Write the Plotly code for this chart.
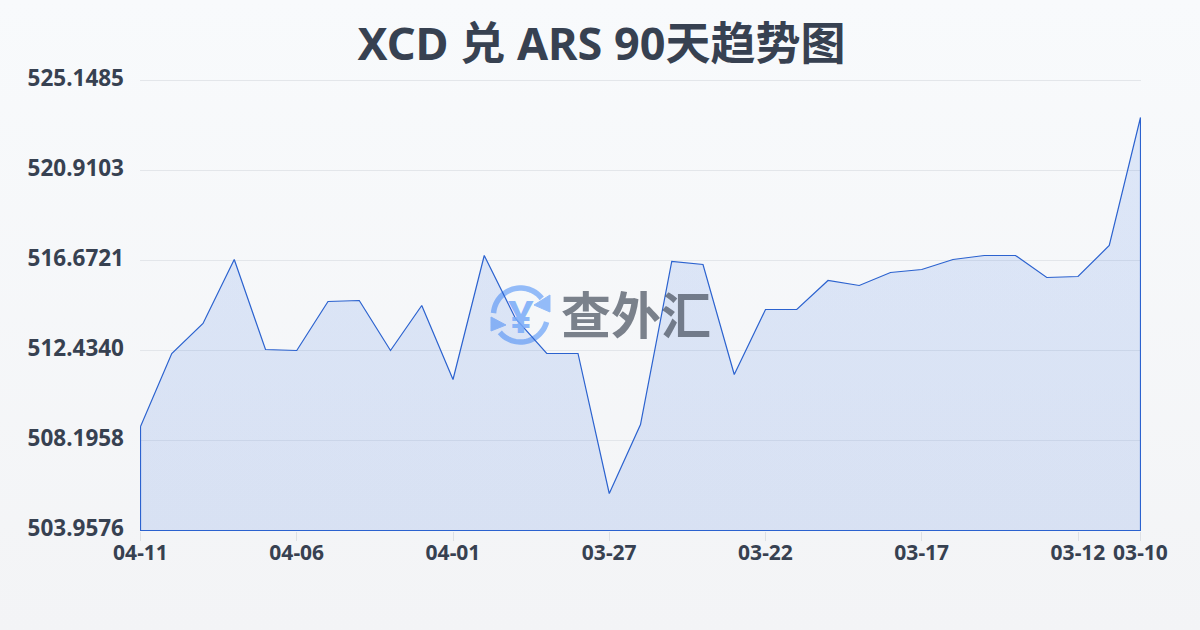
import math
import plotly.graph_objects as go

dates = ["04-11","04-10","04-09","04-08","04-07","04-06","04-05","04-04","04-03","04-02","04-01",
         "03-31","03-30","03-29","03-28","03-27","03-26","03-25","03-24","03-23","03-22","03-21",
         "03-20","03-19","03-18","03-17","03-16","03-15","03-14","03-13","03-12","03-11","03-10"]
rates = [508.855,512.293,513.705,516.719,512.481,512.434,514.741,514.788,512.434,514.553,511.068,
         516.908,513.941,512.293,512.293,505.700,508.949,516.625,516.484,511.304,514.365,514.365,
         515.730,515.495,516.107,516.248,516.719,516.908,516.908,515.871,515.918,517.378,523.406]
y_ticks = [503.9576,508.1958,512.4340,516.6721,520.9103,525.1485]
y_labels = ["503.9576","508.1958","512.4340","516.6721","520.9103","525.1485"]
x_ticks = ["04-11","04-06","04-01","03-27","03-22","03-17","03-12","03-10"]
title = "XCD 兑 ARS 90天趋势图"
watermark = "查外汇"

FONT = "'Noto Sans','Noto Sans CJK SC',sans-serif"
INK = "#374151"
ICON = "#93bbf8"
L, T, R, B = 140, 79, 1141, 531
X_PAD = 0.5 / 31.25
Y_PX = (y_ticks[-1] - y_ticks[0]) / 450

def fx(p): return (p - L) / (R - L)
def fy(p): return (B - p) / (B - T)
def path(points, close=False):
    s = "M" + " L".join(f"{fx(x):.5f},{fy(y):.5f}" for x, y in points)
    return s + (" Z" if close else "")
def arc(cx, cy, r, a0, a1, n=28):
    return [(cx + r*math.cos(math.radians(a0+(a1-a0)*i/n)),
             cy + r*math.sin(math.radians(a0+(a1-a0)*i/n))) for i in range(n+1)]

fig = go.Figure()
fig.add_trace(go.Scatter(
    x=dates + [dates[-1], dates[0], dates[0]],
    y=rates + [y_ticks[0], y_ticks[0], rates[0]],
    mode="lines", fill="toself", cliponaxis=False,
    line=dict(color="#2b62cf", width=1.2),
    fillgradient=dict(type="vertical",
                      colorscale=[[0, "rgba(58,113,221,0.15)"], [1, "rgba(75,129,231,0.15)"]]),
    hoverinfo="skip", showlegend=False,
))

cx, cy = 520.5, 315
common = dict(type="path", xref="paper", yref="paper", layer="below")
shapes = [
    dict(common, path=path(arc(cx, cy, 27, 184, 322)), line=dict(color=ICON, width=5.5)),
    dict(common, path=path(arc(cx, cy, 27, 15, 140)), line=dict(color=ICON, width=5.5)),
    dict(common, path=path([(550, 295), (550, 312), (534, 305)], True), fillcolor=ICON,
         line=dict(color=ICON, width=1)),
    dict(common, path=path([(491, 317), (491, 331), (506, 325)], True), fillcolor=ICON,
         line=dict(color=ICON, width=1)),
]

fig.update_layout(
    width=1200, height=630, autosize=False,
    paper_bgcolor="rgba(0,0,0,0)", plot_bgcolor="rgba(0,0,0,0)",
    margin=dict(l=L, r=1200-R, t=T, b=630-B),
    font=dict(family=FONT, color=INK),
    title=dict(text=f"<b>{title}</b>", x=(358+845)/2/1200, xanchor="center", y=0.93, yanchor="middle",
               font=dict(size=45, color=INK, family=FONT)),
    xaxis=dict(type="category", categoryorder="array", categoryarray=dates,
               range=[-X_PAD, len(dates)-1+X_PAD],
               tickmode="array", tickvals=x_ticks, ticktext=[f"<b>{t}</b>" for t in x_ticks],
               tickfont=dict(size=21, color=INK, family=FONT), ticks="outside", ticklen=9,
               tickcolor="#dde0e5", tickwidth=1, showgrid=False, zeroline=False, showline=False,
               tickangle=0, ticklabelstandoff=-6),
    yaxis=dict(range=[y_ticks[0]-0.5*Y_PX, y_ticks[-1]+1.5*Y_PX], tickmode="array", tickvals=y_ticks,
               ticktext=[f"<b>{t}</b>" for t in y_labels],
               tickfont=dict(size=22.5, color=INK, family=FONT), ticks="", showgrid=True,
               gridcolor="#e3e6ea", gridwidth=1, zeroline=False, showline=False,
               ticklabelstandoff=15, ticklabelshift=-2),
    shapes=shapes,
    annotations=[
        dict(text=f"<b>{watermark}</b>", x=fx(636), y=fy(312), xref="paper", yref="paper",
             xanchor="center", yanchor="middle", showarrow=False,
             font=dict(size=50, color="rgba(70,78,92,0.70)", family="'Noto Sans CJK SC'")),
        dict(text="<b>¥</b>", x=fx(521), y=fy(315), xref="paper", yref="paper",
             xanchor="center", yanchor="middle", showarrow=False,
             font=dict(size=45, color="rgba(120,170,248,0.85)", family=FONT)),
    ],
)

post = """
document.documentElement.style.height='100%';
document.body.style.margin='0';
document.body.style.minHeight='630px';
document.body.style.background='linear-gradient(180deg,#f8fafc 0%,#f3f4f6 100%)';
"""
fig.write_html("out.html", post_script=post, config={"displayModeBar": False})
